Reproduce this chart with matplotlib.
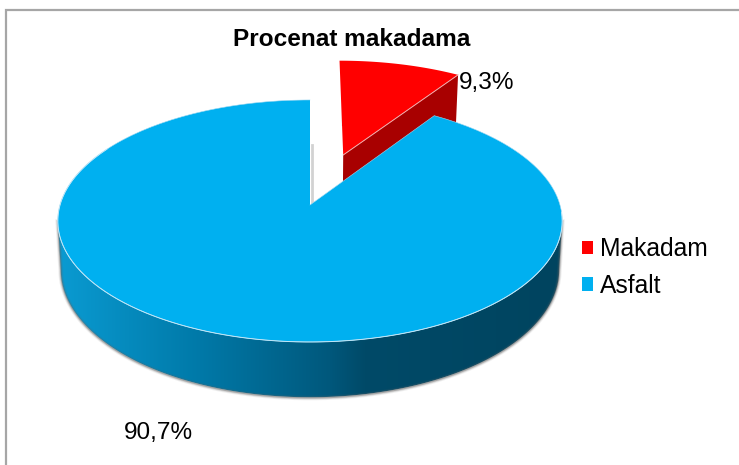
import numpy as np
import matplotlib
matplotlib.use("Agg")
import matplotlib.pyplot as plt
from matplotlib.patches import Patch, Polygon
from matplotlib.colors import to_rgb

plt.rcParams["font.family"] = ["Liberation Sans", "DejaVu Sans"]

title = "Procenat makadama"
categories = ["Makadam", "Asfalt"]
values = [9.3, 90.7]
colors = ["#ff0000", "#00b0f0"]
wall_red = "#a80000"
wall_x = [57, 200, 330, 365, 562]
wall_colors = ["#0a9bd2", "#0079a8", "#00587c", "#004a68", "#00445f"]

# look of the 3d pie, in pixels of the picture
cx, cy = 310, 205
rx, ry = 250, 118.9
persp = 0.132
depth = 48
explode = 0.465


def project(u, v, z=0.0):
    w = 1 + persp * v
    shrink = 1 - 0.012 * z
    return cx + rx * shrink * u / w, cy - (ry * v - depth * z) / w


def rim(a0, a1, du=0.0, dv=0.0, z=0.0, n=200):
    # angles run clockwise from the top, in degrees
    a = np.radians(np.linspace(a0, a1, n))
    return project(du + np.sin(a), dv + np.cos(a), z)


def wedge(a0, a1, du=0.0, dv=0.0):
    x, y = rim(a0, a1, du, dv)
    ax0, ay0 = project(du, dv)
    return np.r_[ax0, x], np.r_[ay0, y]


fig = plt.figure(figsize=(7.39, 4.65), dpi=100)
ax = fig.add_axes([0, 0, 1, 1])

# chart border, only top and left are in the picture
ax.plot([6, 6, 739], [465, 10, 10], color="#a6a6a6", lw=1.6, solid_joinstyle="miter")

angles = np.cumsum([0] + values) * 3.6
red_a0, red_a1 = angles[0], angles[1]
blue_a0, blue_a1 = angles[1], angles[2]

# red slice, pulled out along its middle
mid = np.radians((red_a0 + red_a1) / 2)
du, dv = 1.05 * explode * np.sin(mid), explode * np.cos(mid)
edge = np.radians(red_a1)
apex_top = project(du, dv)
apex_low = project(du, dv, 1.3)
edge_top = project(du + np.sin(edge), dv + np.cos(edge))
edge_low = project(du + np.sin(edge), dv + np.cos(edge), 1.3)
ax.fill([apex_top[0], edge_top[0], edge_low[0], apex_low[0]],
        [apex_top[1], edge_top[1], edge_low[1], apex_low[1]],
        color=wall_red, lw=0, zorder=2)
x, y = wedge(red_a0, red_a1, du, dv)
ax.fill(x, y, color=colors[0], lw=0, zorder=3)
ax.plot([apex_top[0], edge_top[0]], [apex_top[1], edge_top[1]], color="#f0b0b0", lw=0.7, zorder=3)
ax.plot([apex_top[0] - 1, apex_top[0] - 1], [apex_top[1] - 50, apex_top[1] - 30], color="#8c8c8c", lw=0.8, zorder=1)

# blue wall, gradient image clipped to the wall outline
# the widest point of the disk sits a bit below its middle because of the perspective
side = np.degrees(np.arccos(-persp))
xt, yt = rim(side, 360 - side, n=400)
xb, yb = rim(side, 360 - side, z=1, n=400)
outline = Polygon(np.c_[np.r_[xt, xb[::-1]], np.r_[yt, yb[::-1]]], transform=ax.transData)
columns = np.arange(wall_x[0], wall_x[-1] + 1)
wall_rgb = np.array([to_rgb(c) for c in wall_colors])
grad = np.stack([np.interp(columns, wall_x, wall_rgb[:, i]) for i in range(3)], axis=-1)[np.newaxis, :, :]
img = ax.imshow(grad, extent=(wall_x[0], wall_x[-1], 410, 200), aspect="auto", zorder=5, interpolation="bilinear")
img.set_clip_path(outline)

# soft shadow along the lower edge of the wall
sx, sy = np.r_[xt[0], xb, xt[-1]], np.r_[yt[0], yb, yt[-1]]
for lw, alpha in [(3.5, 0.10), (2.2, 0.20), (1.0, 0.40)]:
    ax.plot(sx, sy + 0.6, color="#666666", lw=lw, alpha=alpha, zorder=5.5)

# blue top, with the thin pale rim
x, y = wedge(blue_a0, blue_a1)
ax.plot([cx + 2, cx + 2], [cy - 60, cy - 3], color="#b5b5b5", lw=2, alpha=0.6, zorder=5)
ax.fill(x, y, color=colors[1], lw=0, zorder=6)
fx, fy = rim(blue_a0 + 60, blue_a1 - 60)
ax.plot(fx, fy, color="#bfe6f7", lw=0.7, zorder=7)
ax.plot(x, y, color="#9fd8f2", lw=0.4, zorder=6)

ax.text(352, 39, title, fontsize=17.6, fontweight="bold", ha="center", va="center", color="black")
ax.text(487, 82.5, f"{values[0]:.1f}%".replace(".", ","), fontsize=17.6, ha="center", va="center", color="black")
ax.text(158.5, 433, f"{values[1]:.1f}%".replace(".", ","), fontsize=17.6, ha="center", va="center", color="black")

handles = [Patch(facecolor=c, edgecolor="none") for c in colors]
ax.legend(handles, categories, loc="upper left", bbox_to_anchor=(582, 237), bbox_transform=ax.transData,
          frameon=False, fontsize=17.7, borderpad=0, borderaxespad=0, labelspacing=0.52,
          handlelength=0.46, handleheight=0.46, handletextpad=0.28, labelcolor="black")

ax.set_xlim(0, 739)
ax.set_ylim(465, 0)
ax.axis("off")

fig.savefig("out.png", dpi=100)
